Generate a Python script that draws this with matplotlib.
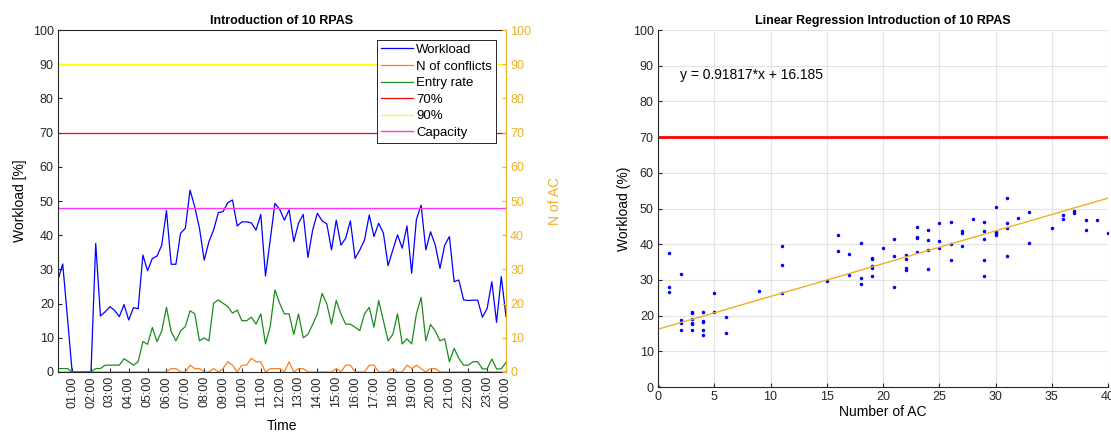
import numpy as np
import matplotlib
matplotlib.use("Agg")
import matplotlib.pyplot as plt

plt.rcParams['font.family'] = ['Liberation Sans', 'DejaVu Sans']

# ---------------- data: left chart (15-minute samples, 00:15 .. 24:00) ----------------
workload = [26.9, 31.6, 16.0, 0, 0, 0, 0, 0, 37.6, 16.4, 17.6, 19.1, 18.0, 16.2, 19.7, 15.2,
            18.8, 18.5, 34.2, 29.6, 33.2, 33.9, 37.1, 47.2, 31.5, 31.5, 40.6, 42.0, 53.2, 48.3,
            42.0, 32.7, 38.1, 41.5, 46.6, 46.9, 49.5, 50.3, 42.7, 43.9, 43.9, 43.6, 41.5, 46.1,
            28.1, 38.6, 49.3, 47.6, 44.4, 47.4, 38.1, 43.5, 46.1, 33.5, 41.5, 46.4, 44.2, 43.3,
            35.7, 44.4, 37.1, 39.1, 44.2, 33.2, 35.7, 38.6, 45.9, 39.6, 43.5, 40.6, 31.1, 35.7,
            40.1, 36.2, 42.7, 28.9, 44.6, 48.8, 35.7, 41.0, 37.1, 30.3, 37.1, 39.6, 26.4, 26.9,
            21.1, 20.9, 21.0, 21.0, 16.0, 18.6, 26.4, 14.5, 27.9, 16.2]
conflicts = [0, 0, 0, 0, 0, 0, 0, 0, 0, 0, 0, 0, 0, 0, 0, 0,
             0, 0, 0, 0, 0, 0, 0, 0, 1, 1, 0, 0, 2, 1,
             1, 0, 0, 1, 0, 1, 3, 2, 0, 2, 2, 4, 3, 3,
             0, 1, 1, 1, 0, 3, 0, 1, 1, 0, 0, 0, 0, 0,
             0, 1, 0, 2, 2, 0, 0, 0, 2, 2, 0, 0, 0, 1,
             0, 0, 2, 1, 2, 1, 0, 1, 1, 0, 0, 0, 0, 0,
             0, 0, 0, 0, 0, 0, 0, 0, 0, 0]
entry_rate = [1, 1, 1, 0, 0, 0, 0, 0, 1, 1, 2, 2, 2, 2, 3.9, 3,
              2, 3, 8.9, 8.1, 13, 8.9, 12, 18.9, 11.8, 9.1, 12, 13.3, 17.9, 17,
              9.1, 10, 9.1, 20.1, 21.1, 20.1, 19.1, 17.2, 18.1, 15, 15, 16, 14, 17,
              8.2, 13.3, 24, 20.1, 17, 17, 11, 17, 10, 11, 13.9, 17, 23, 19.9,
              14, 20.9, 17, 14, 14, 13.1, 12.1, 17, 18.9, 13.1, 20.9, 15, 9.1, 11,
              17, 8.2, 9.7, 8.2, 17, 21.8, 9.1, 13.9, 12, 9.1, 9.7, 3, 6.9, 4,
              2, 2, 3, 3, 0.9, 0.9, 3.8, 0.9, 0.9, 2.8]
level_70 = 70
level_90 = 90
capacity = 48
time_labels = ["01:00", "02:00", "03:00", "04:00", "05:00", "06:00", "07:00", "08:00",
               "09:00", "10:00", "11:00", "12:00", "13:00", "14:00", "15:00", "16:00",
               "17:00", "18:00", "19:00", "20:00", "21:00", "22:00", "23:00", "00:00"]

# ---------------- data: right chart ----------------
n_ac = [0, 0, 0, 0, 0,
        1, 1, 1, 2, 2, 2, 2,
        3, 3, 3, 3, 3, 3, 4, 4, 4, 4, 4, 5, 5, 6, 6, 9, 11, 11, 11, 15,
        16, 16, 17, 17, 18, 18, 18, 19, 19, 19, 19, 19, 20,
        21, 21, 21, 22, 22, 22, 22, 23, 23, 23, 23, 24, 24, 24, 24,
        25, 25, 25, 26, 26, 26, 27, 27, 27, 28, 29, 29, 29, 29, 29,
        30, 30, 30, 30, 31, 31, 31, 31, 32, 33, 33, 35, 36, 36, 37, 37,
        38, 38, 39, 40]
wl_ac = [0, 0, 0, 0, 0,
         37.5, 27.9, 26.7, 31.6, 18.7, 17.8, 16.1,
         21.0, 20.8, 19.0, 17.8, 17.6, 15.9, 21.1, 18.6, 18.1, 16.1, 14.5, 26.4, 21.1,
         19.7, 15.2, 26.9, 39.4, 34.2, 26.4, 29.6,
         42.7, 38.0, 37.2, 31.5, 40.4, 30.4, 28.9, 36.0, 35.8, 33.9, 33.4, 31.0, 38.9,
         41.5, 36.8, 28.1, 37.1, 35.9, 33.4, 32.7, 44.8, 42.1, 41.8, 37.7, 44.1, 41.2, 38.5, 33.0,
         45.9, 40.9, 38.9, 46.2, 40.0, 35.6, 43.8, 43.0, 39.4, 47.0, 46.2, 43.8, 41.5, 35.6, 31.2,
         50.3, 43.4, 43.1, 42.6, 52.9, 45.9, 44.4, 36.8, 47.4, 49.0, 40.4, 44.4, 48.2, 47.0,
         49.4, 48.8, 46.7, 44.1, 46.7, 43.1]
slope = 0.91817
intercept = 16.185
fit_x = [0, 40]

# ---------------- figure ----------------
W, H = 1111, 432
fig = plt.figure(figsize=(W / 100, H / 100), dpi=100)
AX_COL = '#262626'
GOLD = '#EDB120'

ax = fig.add_axes([58 / W, 1 - 372 / H, (506 - 58) / W, (372 - 30) / H])
times = 0.25 * np.arange(1, len(workload) + 1)
ax.plot(times, workload, color='#0000FF', lw=0.9, label='Workload')
ax.plot(times, conflicts, color='#FF7F1E', lw=0.9, label='N of conflicts')
ax.plot(times, entry_rate, color='#1C8C1C', lw=0.9, label='Entry rate')
ax.plot([times[0], times[-1]], [level_70, level_70], color='#FF0000', lw=0.9, label='70%')
ax.plot([times[0], times[-1]], [level_90, level_90], color='#FFFF00', lw=0.9, label='90%')
ax.plot([times[0], times[-1]], [capacity, capacity], color='#FF33FF', lw=1.0, label='Capacity')
ax.set_xlim(times[0], times[-1])
ax.set_ylim(0, 100)
ax.set_yticks(np.arange(0, 101, 10))
ax.set_xticks(np.arange(1, 25))
ax.set_xticklabels(time_labels, rotation=90)
ax.tick_params(direction='in', length=3, labelsize=9, colors=AX_COL, pad=3)
for s in ['left', 'bottom', 'top']:
    ax.spines[s].set_color(AX_COL)
    ax.spines[s].set_linewidth(0.8)
ax.spines['right'].set_visible(False)
ax.set_title('Introduction of 10 RPAS', fontsize=9, fontweight='bold', pad=4)
ax.set_xlabel('Time', fontsize=10, labelpad=8)
ax.set_ylabel('Workload [%]', fontsize=10, labelpad=4)
leg = ax.legend(loc='upper right', fontsize=9.5, frameon=True, fancybox=False,
                framealpha=1, edgecolor=AX_COL, borderpad=0.3, labelspacing=0.33,
                handlelength=2.4, handletextpad=0.25, borderaxespad=0.75)
leg.get_frame().set_linewidth(0.7)

ax2 = ax.twinx()
ax2.set_ylim(0, 100)
ax2.set_yticks(np.arange(0, 101, 10))
ax2.tick_params(direction='in', length=3, labelsize=9, colors=GOLD, pad=3)
for s in ['left', 'bottom', 'top']:
    ax2.spines[s].set_visible(False)
ax2.spines['right'].set_color(GOLD)
ax2.spines['right'].set_linewidth(0.8)
ax2.set_ylabel('N of AC', fontsize=10, color=GOLD, labelpad=12)

# ---------------- right chart ----------------
bx = fig.add_axes([658 / W, 1 - 387 / H, (1108 - 658) / W, (387 - 30) / H])
bx.grid(True, color='#E3E3E3', lw=0.8)
bx.set_axisbelow(True)
bx.plot(n_ac, wl_ac, '.', color='#0000FF', ms=3)
bx.plot(fit_x, [slope * v + intercept for v in fit_x], color=GOLD, lw=1.0)
bx.plot(fit_x, [level_70, level_70], color='#FF0000', lw=2.0)
bx.text(2, 87.5, 'y = %.5f*x + %.3f' % (slope, intercept), fontsize=10, va='center', ha='left')
bx.set_xlim(0, 40)
bx.set_ylim(0, 100)
bx.set_xticks(np.arange(0, 41, 5))
bx.set_yticks(np.arange(0, 101, 10))
bx.tick_params(direction='in', length=3, labelsize=9, colors=AX_COL, pad=3)
for s in ['left', 'bottom']:
    bx.spines[s].set_color(AX_COL)
    bx.spines[s].set_linewidth(0.8)
for s in ['top', 'right']:
    bx.spines[s].set_visible(False)
bx.set_title('Linear Regression Introduction of 10 RPAS', fontsize=9, fontweight='bold', pad=4)
bx.set_xlabel('Number of AC', fontsize=10, labelpad=1)
bx.set_ylabel('Workload (%)', fontsize=10, labelpad=1)

fig.savefig('out.png', dpi=100)
